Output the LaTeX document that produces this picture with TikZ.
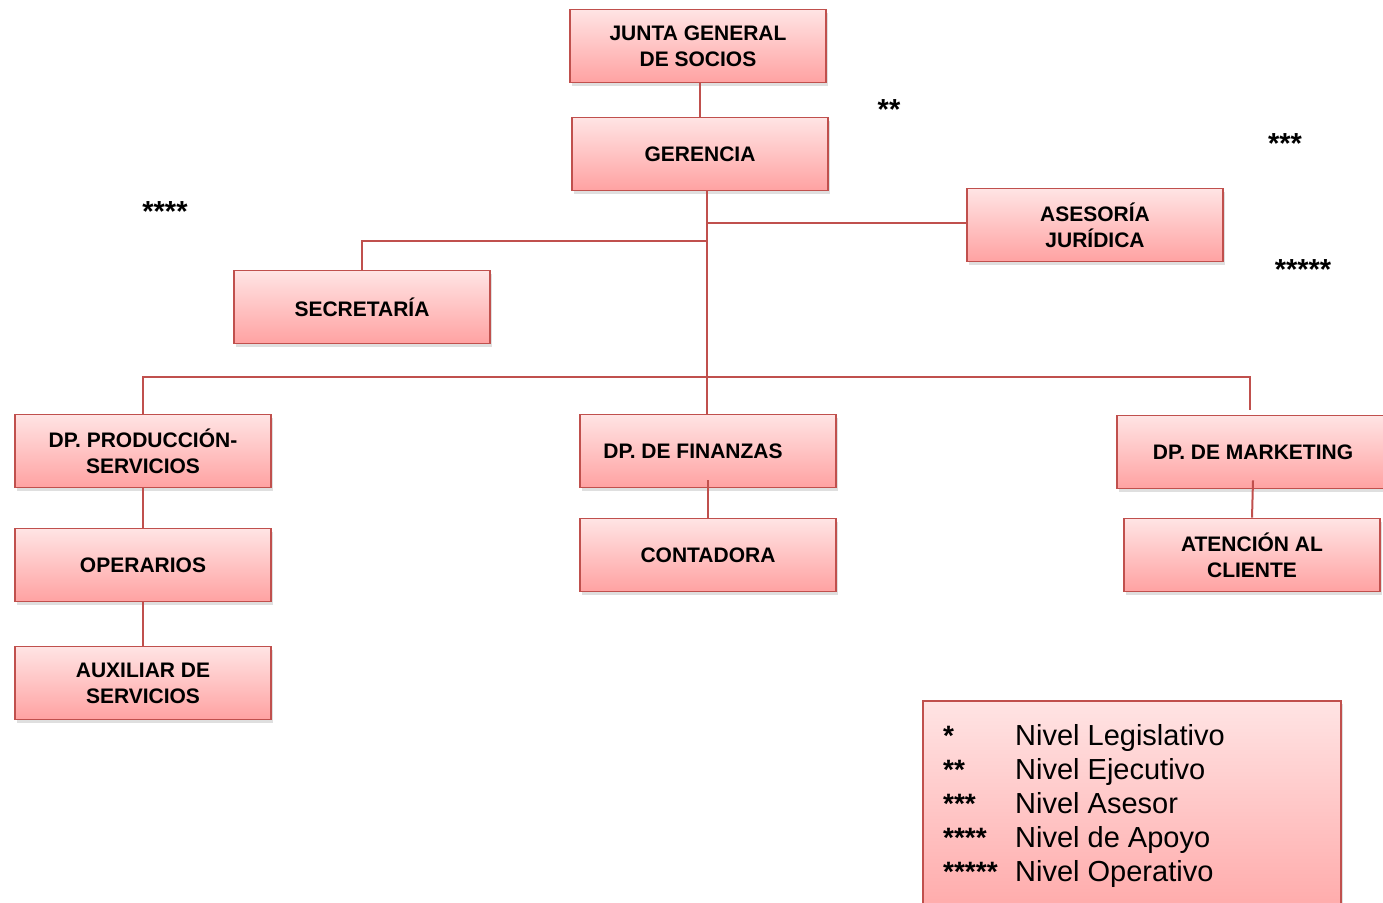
\documentclass[tikz,border=0pt]{standalone}
\usepackage{fontspec}
\setmainfont{Liberation Sans}
\setsansfont{Liberation Sans}
\usetikzlibrary{shadows,positioning,calc}

\definecolor{linered}{RGB}{192,80,77}
\definecolor{boxtop}{RGB}{255,228,228}
\definecolor{boxbot}{RGB}{255,162,162}

\begin{document}
\begin{tikzpicture}[x=1pt,y=-1pt, font=\sffamily]

	\tikzstyle{box}=[draw=linered, line width=1.6, top color=boxtop, bottom color=boxbot, minimum width=256pt, minimum height=73pt, inner sep=2pt, align=center, text=black, font=\fontsize{21}{26}\selectfont\bfseries, drop shadow={shadow xshift=2pt, shadow yshift=-3pt, opacity=0.25}]
	\tikzstyle{line1}=[draw=linered, line width=2]
	\tikzstyle{stars}=[text=black, font=\fontsize{29}{29}\selectfont\bfseries]

	\clip (0,0) rectangle (1383,902);

	\node [box] (junta) at (698,46) {JUNTA GENERAL\\DE SOCIOS};
	\node [box] (gerencia) at (700,154) {GERENCIA};
	\node [box] (asesoria) at (1095,225) {ASESORÍA\\JURÍDICA};
	\node [box] (secretaria) at (362,307) {SECRETARÍA};

	\node [box] (produccion) at (143,451) {DP. PRODUCCIÓN-\\SERVICIOS};
	\node [box] (operarios) at (143,565) {OPERARIOS};
	\node [box] (auxiliar) at (143,683) {AUXILIAR DE\\SERVICIOS};

	\node [box] (finanzas) at (708,451) {DP. DE FINANZAS\hspace*{30pt}};
	\node [box] (contadora) at (708,555) {CONTADORA};

	\node [box, minimum width=272pt] (marketing) at (1253,452) {DP. DE MARKETING};
	\node [box] (atencion) at (1252,555) {ATENCIÓN AL\\CLIENTE};

	% tronco
	\coordinate (ja) at (707,223);
	\coordinate (js) at (707,241);
	\coordinate (jd) at (707,377);

	\draw [line1] (junta.south -| gerencia.north) -- (gerencia.north);
	\draw [line1] (gerencia.south -| ja) -- (finanzas.north -| ja);
	\draw [line1] (ja) -- (ja -| asesoria.west);
	\draw [line1] (js) -| (secretaria.north);
	\draw [line1] (jd) -| (produccion.north);
	\draw [line1] (jd) -| ([xshift=-3pt, yshift=5pt]marketing.north);

	\draw [line1] (produccion.south) -- (operarios.north);
	\draw [line1] (operarios.south) -- (auxiliar.north);
	\draw [line1] ([yshift=8pt]finanzas.south) -- (contadora.north);
	\draw [line1] ([yshift=9pt]marketing.south) -- (atencion.north);

	\node [stars] (s2) at (889,110) {**};
	\node [stars] (s3) at (1285,144) {***};
	\node [stars] (s4) at (165,212) {****};
	\node [stars] (s5) at (1303,270) {*****};

	% leyenda
	\node [box, anchor=north west, minimum width=418pt, minimum height=240pt] (leyenda) at (922,700) {};
	\node [anchor=base west, inner sep=0pt, text=black, font=\fontsize{29}{34}\selectfont] (leytxt) at (943,745) {%
		\begin{tabular}[t]{@{}p{72pt}@{}l@{}}
		{\fontsize{28}{28}\selectfont\bfseries *} & Nivel Legislativo\\
		{\fontsize{28}{28}\selectfont\bfseries **} & Nivel Ejecutivo\\
		{\fontsize{28}{28}\selectfont\bfseries ***} & Nivel Asesor\\
		{\fontsize{28}{28}\selectfont\bfseries ****} & Nivel de Apoyo\\
		{\fontsize{28}{28}\selectfont\bfseries *****} & Nivel Operativo
		\end{tabular}};

\end{tikzpicture}
\end{document}
